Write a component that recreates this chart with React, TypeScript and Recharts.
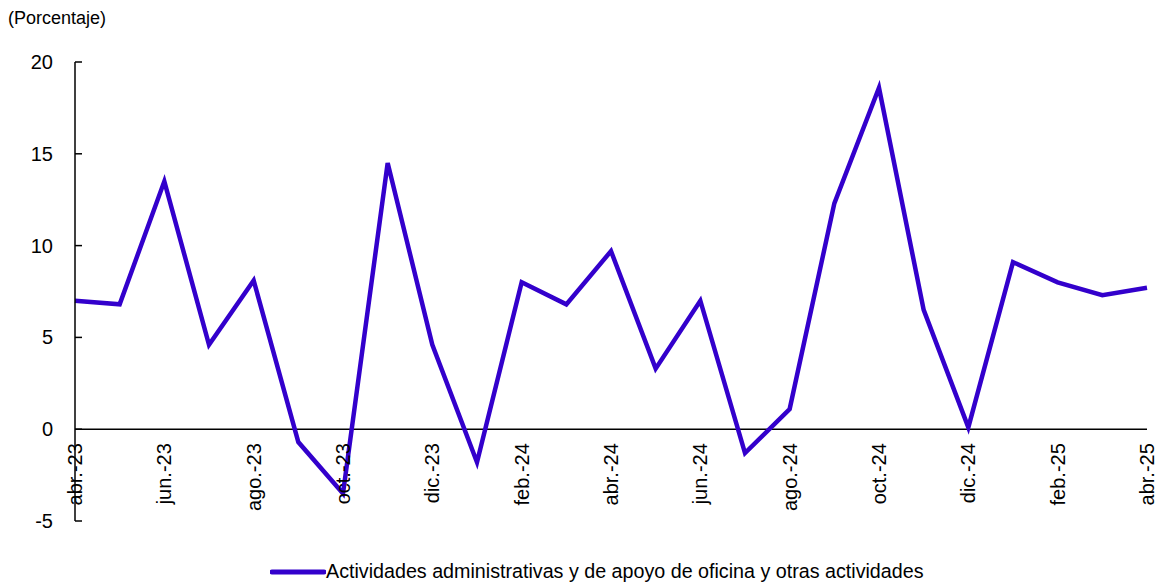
import React from 'react';
import { LineChart, Line, XAxis, YAxis, ReferenceLine } from 'recharts';

const months = [
  'abr.-23', 'may.-23', 'jun.-23', 'jul.-23', 'ago.-23', 'sep.-23', 'oct.-23', 'nov.-23', 'dic.-23',
  'ene.-24', 'feb.-24', 'mar.-24', 'abr.-24', 'may.-24', 'jun.-24', 'jul.-24', 'ago.-24', 'sep.-24',
  'oct.-24', 'nov.-24', 'dic.-24', 'ene.-25', 'feb.-25', 'mar.-25', 'abr.-25',
];

const actividades = [
  7.0, 6.8, 13.5, 4.6, 8.1, -0.7, -3.5, 14.5, 4.6,
  -1.8, 8.0, 6.8, 9.7, 3.3, 7.0, -1.3, 1.1, 12.3,
  18.6, 6.5, 0.1, 9.1, 8.0, 7.3, 7.7,
];

const yTicks = [-5, 0, 5, 10, 15, 20];

const seriesName = 'Actividades administrativas y de apoyo de oficina y otras actividades';

const data = months.map((m, i) => ({ month: m, value: actividades[i] }));

const W = 1159;
const H = 585;
const FONT = '"Liberation Sans", Arial, sans-serif';
const LINE_COLOR = '#3300CC';
const margin = { top: 62, right: 12, left: 74, bottom: 63 };
// pixel row of the zero line (domain -5..20)
const plotH = H - margin.top - margin.bottom - 1;
const zeroY = margin.top + (plotH * 20) / 25;

const YTick = (props: any) => {
  const { x, y, payload } = props;
  return (
    <g>
      <line x1={x} x2={x + 7} y1={y} y2={y} stroke="#000" strokeWidth={1.5} />
      <text x={x - 22} y={y} dy="0.35em" textAnchor="end" fontSize={20} fontFamily={FONT} fill="#000">
        {payload.value}
      </text>
    </g>
  );
};

const XTick = (props: any) => {
  const { x, payload } = props;
  const ty = zeroY + 14;
  return (
    <text
      x={x}
      y={ty}
      dy="0.35em"
      textAnchor="end"
      transform={`rotate(-90, ${x}, ${ty})`}
      fontSize={20}
      fontFamily={FONT}
      fill="#000"
    >
      {payload.value}
    </text>
  );
};

export default function App() {
  return (
    <div style={{ position: 'absolute', left: 0, top: 0, width: W, height: H, background: '#fff' }}>
      <div style={{ position: 'absolute', left: 8, top: 8, fontSize: 18, fontFamily: FONT, color: '#000' }}>
        (Porcentaje)
      </div>
      <LineChart width={W} height={H} data={data} margin={margin}>
        <XAxis
          dataKey="month"
          height={1}
          axisLine={false}
          tickLine={false}
          tickSize={0}
          tickMargin={0}
          interval={1}
          tick={<XTick />}
        />
        <YAxis
          width={1}
          domain={[-5, 20]}
          ticks={yTicks}
          axisLine={{ stroke: '#000', strokeWidth: 1.5 }}
          tickLine={false}
          tickSize={0}
          tickMargin={0}
          tick={<YTick />}
        />
        <ReferenceLine y={0} stroke="#000" strokeWidth={1.5} />
        <Line
          dataKey="value"
          name={seriesName}
          stroke={LINE_COLOR}
          strokeWidth={4.5}
          dot={false}
          type="linear"
          isAnimationActive={false}
        />
      </LineChart>
      <div
        style={{
          position: 'absolute',
          left: 270,
          top: 560,
          display: 'flex',
          alignItems: 'center',
          fontSize: 19.7,
          fontFamily: FONT,
          color: '#000',
          whiteSpace: 'nowrap',
        }}
      >
        <svg width={56} height={8} style={{ marginRight: 0 }}>
          <line x1={2} x2={54} y1={4} y2={4} stroke={LINE_COLOR} strokeWidth={5} strokeLinecap="round" />
        </svg>
        <span>{seriesName}</span>
      </div>
    </div>
  );
}
